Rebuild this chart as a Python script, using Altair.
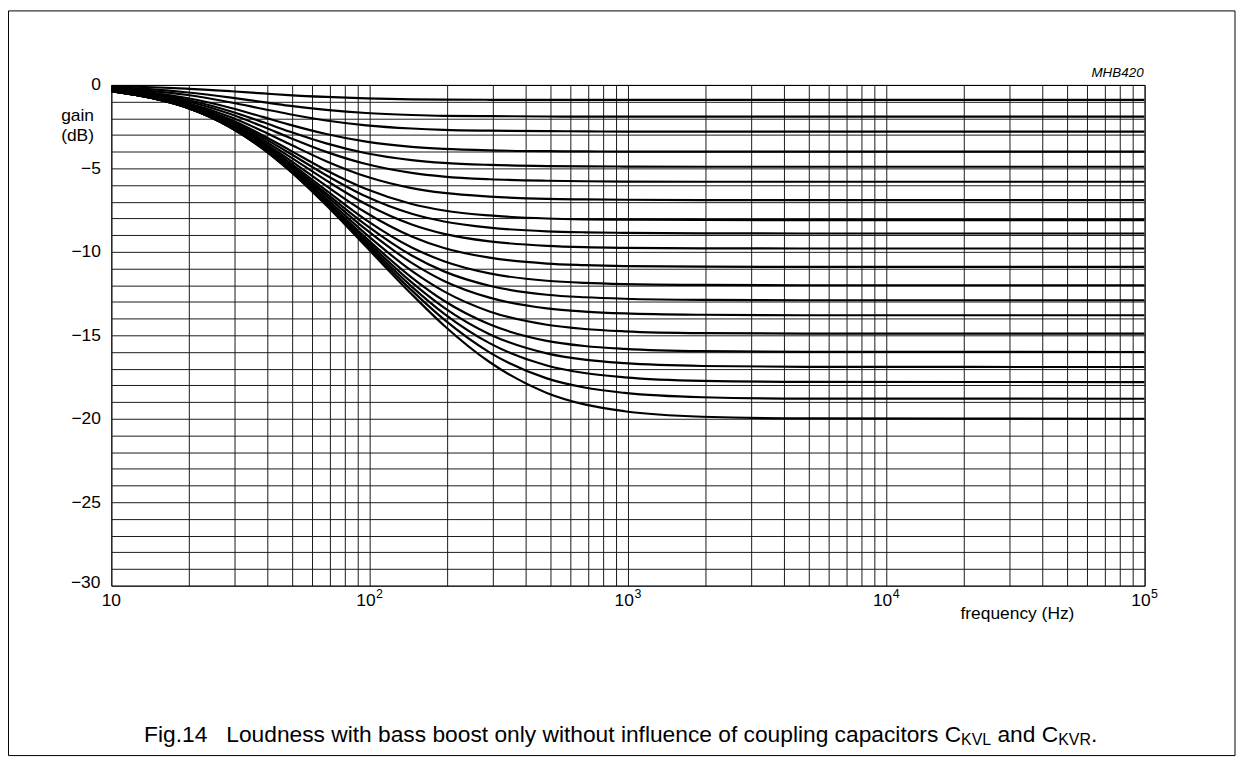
import altair as alt
import pandas as pd

# ---------------- data ----------------
# frequencies (Hz) at which the curves were read
freq = [10, 14.5, 19.4, 29.1, 38.8, 48.5, 67.9, 97, 145.5, 194, 291, 485, 679, 970, 1940, 4850, 100000]

# gain (dB) of each curve at those frequencies
g01 = [0, 0, 0, 0, 0, 0, 0, 0, 0, 0, 0, 0, 0, 0, 0, 0, 0]
g02 = [-0.07, -0.14, -0.22, -0.38, -0.51, -0.61, -0.72, -0.80, -0.86, -0.88, -0.89, -0.9, -0.9, -0.9, -0.9, -0.9, -0.9]
g03 = [-0.13, -0.27, -0.44, -0.76, -1.03, -1.24, -1.49, -1.68, -1.80, -1.85, -1.87, -1.89, -1.9, -1.9, -1.9, -1.9, -1.9]
g04 = [-0.18, -0.37, -0.59, -1.05, -1.44, -1.74, -2.13, -2.42, -2.61, -2.69, -2.74, -2.77, -2.78, -2.8, -2.8, -2.8, -2.8]
g05 = [-0.23, -0.47, -0.77, -1.38, -1.93, -2.36, -2.94, -3.40, -3.71, -3.83, -3.92, -3.97, -3.98, -4.0, -4.0, -4.0, -4.0]
g06 = [-0.25, -0.54, -0.87, -1.59, -2.24, -2.77, -3.50, -4.09, -4.50, -4.67, -4.79, -4.86, -4.88, -4.89, -4.9, -4.9, -4.9]
g07 = [-0.28, -0.59, -0.96, -1.76, -2.51, -3.13, -4.01, -4.74, -5.27, -5.49, -5.65, -5.74, -5.77, -5.79, -5.8, -5.8, -5.8]
g08 = [-0.30, -0.64, -1.05, -1.94, -2.79, -3.51, -4.57, -5.49, -6.18, -6.47, -6.69, -6.83, -6.86, -6.88, -6.9, -6.9, -6.9]
g09 = [-0.32, -0.68, -1.12, -2.09, -3.04, -3.86, -5.11, -6.24, -7.13, -7.52, -7.82, -8.00, -8.05, -8.07, -8.09, -8.1, -8.1]
g10 = [-0.33, -0.70, -1.16, -2.18, -3.17, -4.05, -5.41, -6.69, -7.72, -8.18, -8.55, -8.77, -8.83, -8.86, -8.89, -8.9, -8.9]
g11 = [-0.34, -0.72, -1.20, -2.26, -3.31, -4.25, -5.72, -7.15, -8.36, -8.92, -9.37, -9.64, -9.72, -9.76, -9.79, -9.8, -9.8]
g12 = [-0.35, -0.74, -1.23, -2.33, -3.44, -4.44, -6.05, -7.66, -9.08, -9.77, -10.35, -10.70, -10.79, -10.85, -10.89, -10.9, -10.9]
g13 = [-0.36, -0.76, -1.26, -2.40, -3.54, -4.59, -6.32, -8.10, -9.74, -10.56, -11.29, -11.73, -11.86, -11.93, -11.98, -12.0, -12.0]
g14 = [-0.36, -0.77, -1.28, -2.44, -3.61, -4.70, -6.50, -8.40, -10.22, -11.17, -12.03, -12.57, -12.72, -12.81, -12.88, -12.9, -12.9]
g15 = [-0.36, -0.78, -1.29, -2.47, -3.67, -4.78, -6.65, -8.67, -10.66, -11.74, -12.74, -13.39, -13.58, -13.69, -13.77, -13.8, -13.8]
g16 = [-0.37, -0.79, -1.31, -2.50, -3.72, -4.87, -6.81, -8.95, -11.14, -12.37, -13.57, -14.37, -14.62, -14.76, -14.87, -14.9, -14.9]
g17 = [-0.37, -0.79, -1.32, -2.53, -3.77, -4.94, -6.94, -9.18, -11.54, -12.93, -14.34, -15.33, -15.64, -15.81, -15.95, -15.99, -16.0]
g18 = [-0.37, -0.80, -1.33, -2.54, -3.80, -4.98, -7.02, -9.33, -11.83, -13.34, -14.93, -16.08, -16.46, -16.67, -16.84, -16.89, -16.9]
g19 = [-0.37, -0.80, -1.33, -2.56, -3.82, -5.02, -7.09, -9.46, -12.08, -13.70, -15.47, -16.81, -17.26, -17.52, -17.73, -17.79, -17.8]
g20 = [-0.38, -0.80, -1.34, -2.57, -3.84, -5.05, -7.15, -9.58, -12.31, -14.05, -16.02, -17.58, -18.13, -18.45, -18.71, -18.79, -18.8]
g21 = [-0.38, -0.81, -1.34, -2.58, -3.86, -5.08, -7.21, -9.70, -12.54, -14.41, -16.60, -18.45, -19.14, -19.55, -19.88, -19.98, -20.0]

curves = [g01, g02, g03, g04, g05, g06, g07, g08, g09, g10, g11,
          g12, g13, g14, g15, g16, g17, g18, g19, g20, g21]

# grid / tick values
x_grid = [10, 20, 30, 40, 50, 60, 70, 80, 90,
          100, 200, 300, 400, 500, 600, 700, 800, 900,
          1000, 2000, 3000, 4000, 5000, 6000, 7000, 8000, 9000,
          10000, 20000, 30000, 40000, 50000, 60000, 70000, 80000, 90000, 100000]
y_grid = list(range(-30, 1))
x_label_freqs = [100, 1000, 10000, 100000]
x_label_exps = ["2", "3", "4", "5"]

caption_main = "Fig.14\u00a0\u00a0\u00a0Loudness with bass boost only without influence of coupling capacitors C"
caption_sub1 = "KVL"
caption_mid = "and C"
caption_sub2 = "KVR"
caption_end = "."

# ---------------- build ----------------
rows = []
for i, g in enumerate(curves):
    for f, v in zip(freq, g):
        rows.append({"curve": i, "freq": f, "gain": v})
df = pd.DataFrame(rows)

FONT = "Liberation Sans"
TS = 17.5     # axis text size
CS = 22.9     # caption size
W, H = 1040, 504

xs = alt.Scale(type="log", domain=[10, 100000], nice=False)
ys = alt.Scale(domain=[-30, 0], nice=False, zero=False)

lines = alt.Chart(df).mark_line(
    color="black", strokeWidth=2.2, interpolate="monotone", clip=True
).encode(
    x=alt.X("freq:Q", scale=xs,
            axis=alt.Axis(values=x_grid, grid=True, labels=False, ticks=False,
                          domain=False, title=None, gridColor="#1a1a1a",
                          gridWidth=1, gridOpacity=1)),
    y=alt.Y("gain:Q", scale=ys,
            axis=alt.Axis(values=y_grid, grid=True, ticks=False, domain=False,
                          title=None, gridColor="#1a1a1a", gridWidth=1, gridOpacity=1,
                          labelExpr="datum.value % 5 == 0 && datum.value > -30 ? (datum.value == 0 ? '0' : '\u2212' + abs(datum.value)) : ''",
                          labelFont=FONT, labelFontSize=TS, labelColor="black",
                          labelPadding=11, labelOverlap=False, labelFlush=False,
                          labelBound=False)),
    detail="curve:N",
)

one = pd.DataFrame({"a": [0]})


def txt(t, px, py, size=TS, align="center", baseline="middle", style="normal"):
    return alt.Chart(one).mark_text(
        font=FONT, fontSize=size, color="black", align=align, baseline=baseline,
        fontStyle=style, text=t
    ).encode(x=alt.value(px), y=alt.value(py))


frame = alt.Chart(one).mark_rect(fill=None, stroke="black", strokeWidth=1).encode(
    x=alt.value(-103.5), x2=alt.value(1131), y=alt.value(-74.5), y2=alt.value(675)
)

# bottom y label, drawn a little above its grid line as in the reference
lab30 = txt("\u221230", -11, H - 3, align="right")

XLY = 519
lab10 = alt.Chart(pd.DataFrame({"freq": [10], "t": ["10"]})).mark_text(
    font=FONT, fontSize=TS, color="black", align="center", baseline="middle"
).encode(x=alt.X("freq:Q", scale=xs), y=alt.value(XLY), text="t:N")

labbase = alt.Chart(pd.DataFrame({"freq": x_label_freqs, "t": ["10"] * 4})).mark_text(
    font=FONT, fontSize=TS, color="black", align="right", baseline="middle", dx=6
).encode(x=alt.X("freq:Q", scale=xs), y=alt.value(XLY), text="t:N")

labexp = alt.Chart(pd.DataFrame({"freq": x_label_freqs, "t": x_label_exps})).mark_text(
    font=FONT, fontSize=12.5, color="black", align="left", baseline="middle", dx=6.5
).encode(x=alt.X("freq:Q", scale=xs), y=alt.value(XLY - 7), text="t:N")

gain_t = txt("gain", -34, 31)
db_t = txt("(dB)", -34, 51)
freq_t = txt("frequency (Hz)", 912, 533)
mhb_t = txt("MHB420", 1039, -8, size=13.5, align="right", baseline="alphabetic", style="italic")

# caption pieces (Arial/Liberation metrics, in em)
w_main = 35.906
w_sub1 = 1.890 * 0.7
w_space = 0.278
w_mid = 2.668
w_sub2 = 2.056 * 0.7
cx0 = 33
cy = 661
cap1 = txt(caption_main, cx0, cy, size=CS, align="left", baseline="alphabetic")
cap2 = txt(caption_sub1, cx0 + w_main * CS, cy + 3.5, size=CS * 0.7, align="left", baseline="alphabetic")
cap3 = txt(caption_mid, cx0 + (w_main + w_sub1 + w_space) * CS, cy, size=CS, align="left", baseline="alphabetic")
cap4 = txt(caption_sub2, cx0 + (w_main + w_sub1 + w_space + w_mid) * CS, cy + 3.5, size=CS * 0.7, align="left", baseline="alphabetic")
cap5 = txt(caption_end, cx0 + (w_main + w_sub1 + w_space + w_mid + w_sub2) * CS, cy, size=CS, align="left", baseline="alphabetic")

chart = alt.layer(
    lines, frame, lab30, lab10, labbase, labexp, gain_t, db_t, freq_t, mhb_t,
    cap1, cap2, cap3, cap4, cap5
).properties(
    width=W, height=H,
    autosize=alt.AutoSizeParams(type="none"),
    padding={"left": 104, "top": 75, "right": 93, "bottom": 170},
    background="white",
).configure_view(stroke="black", strokeWidth=1)

chart.save("out.html", embed_options={"renderer": "svg", "actions": False})
